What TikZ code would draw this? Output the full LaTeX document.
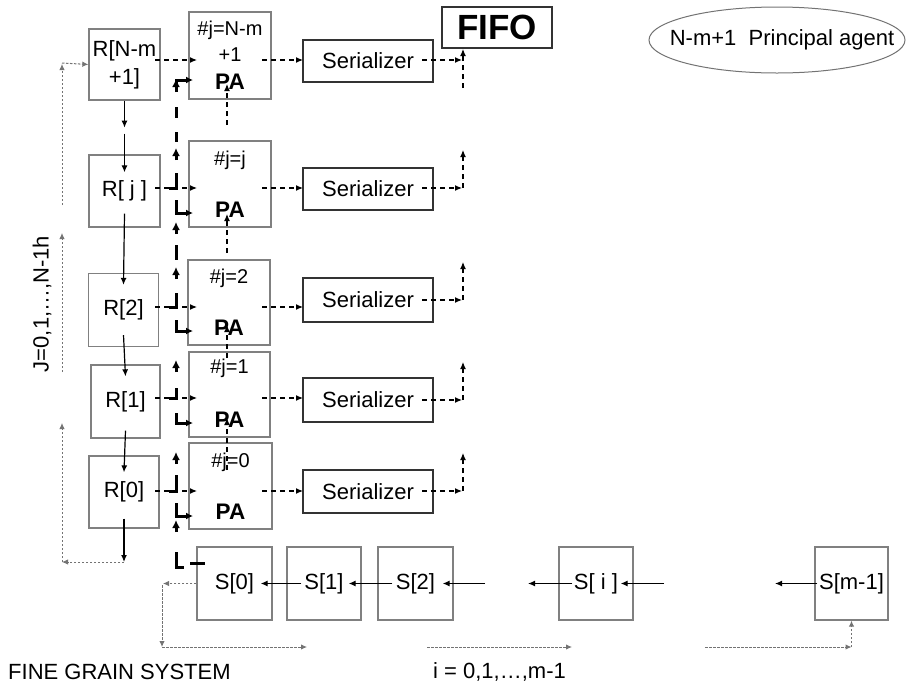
\documentclass[tikz,border=0pt]{standalone}
\usepackage{fontspec}
\setmainfont{Liberation Sans}
\usetikzlibrary{arrows.meta,shapes.geometric,calc}
\begin{document}
\begin{tikzpicture}[x=1pt,y=-1pt,
  gbox/.style={draw=black!50, line width=1.3pt, inner sep=0pt, font=\fontsize{22}{24}\selectfont},
  serbox/.style={draw=black!80, line width=1.8pt, inner sep=0pt, minimum width=130, font=\fontsize{22}{24}\selectfont},
  tx/.style={font=\fontsize{22}{24}\selectfont, inner sep=0pt},
  ptx/.style={font=\fontsize{20}{22}\selectfont, inner sep=0pt},
  pab/.style={font=\bfseries\fontsize{22.5}{24}\selectfont, inner sep=0pt},
  arr/.style={-{Latex[length=7pt,width=6pt]}, line width=1.2pt},
  darr/.style={arr, dash pattern=on 5pt off 4pt},
  garr/.style={-{Latex[length=6pt,width=5.5pt]}, line width=1pt, draw=black!55, dash pattern=on 2.5pt off 1.5pt},
  thk/.style={line width=3pt},
  tarr/.style={thk, -{Latex[length=8pt,width=8pt]}},
]
\useasboundingbox (0,0) rectangle (906,686);

% R column
\node[gbox, minimum width=71, minimum height=71] (r4) at (124.5,64.5) {};
\node[tx] (r4a) at (124.5,51) {R[N-m};
\node[tx] (r4b) at (124.5,79) {+1]};
\node[gbox, minimum width=71, minimum height=72] (rj) at (124.5,191) {R[ j ]};
\node[gbox, minimum width=70, minimum height=73] (r2) at (123.5,310) {R[2]};
\node[gbox, minimum width=69, minimum height=73] (r1) at (125.5,401.5) {R[1]};
\node[gbox, minimum width=70, minimum height=72] (r0) at (124,492) {R[0]};

% PA column
\node[gbox, minimum width=82, minimum height=87] (pa4) at (230,55.5) {};
\node[ptx] (pa4a) at (230,30) {\#j=N-m};
\node[ptx] (pa4b) at (230,55) {+1};
\node[pab] (pa4c) at (230,82) {PA};
\node[gbox, minimum width=82, minimum height=86] (paj) at (230,184) {};
\node[ptx] (paja) at (230,160) {\#j=j};
\node[pab] (pajc) at (230,210) {PA};
\node[gbox, minimum width=82, minimum height=85] (pa2) at (229,302.5) {};
\node[ptx] (pa2a) at (229,278) {\#j=2};
\node[pab] (pa2c) at (229,328) {PA};
\node[gbox, minimum width=81, minimum height=85] (pa1) at (229.5,394.5) {};
\node[ptx] (pa1a) at (229.5,368) {\#j=1};
\node[pab] (pa1c) at (229.5,420) {PA};
\node[gbox, minimum width=83, minimum height=86] (pa0) at (230.5,486) {};
\node[ptx] (pa0a) at (230.5,462) {\#j=0};
\node[pab] (pa0c) at (230.5,512) {PA};

% Serializers
\node[serbox, minimum height=42] (se4) at (368,61) {Serializer};
\node[serbox, minimum height=42] (sej) at (368,189) {Serializer};
\node[serbox, minimum height=44] (se2) at (368,300) {Serializer};
\node[serbox, minimum height=44] (se1) at (368,400) {Serializer};
\node[serbox, minimum height=43] (se0) at (368,491.5) {Serializer};

% FIFO and legend
\node[draw=black!80, line width=2pt, minimum width=110, minimum height=41, inner sep=0pt,
  font=\bfseries\fontsize{35}{37}\selectfont] (fifo) at (497,27.5) {FIFO};
\node[ellipse, draw=black!55, line width=1pt, minimum width=256, minimum height=66, inner sep=0pt] (leg) at (777,40) {};
\node[tx] (legt) at (782,40) {N-m+1\ \ Principal agent};

% S row
\node[gbox, minimum width=75, minimum height=73] (s0) at (234.5,583.5) {S[0]};
\node[gbox, minimum width=74, minimum height=73] (s1) at (324,583.5) {S[1]};
\node[gbox, minimum width=75, minimum height=73] (s2) at (415.5,583.5) {S[2]};
\node[gbox, minimum width=74, minimum height=73] (si) at (596,583.5) {S[ i ]};
\node[gbox, minimum width=73, minimum height=73] (sm) at (851.5,583.5) {S[m-1]};

% labels
\node[tx, anchor=west] (fgs) at (8,672) {FINE GRAIN SYSTEM};
\node[tx, anchor=west] (ilab) at (433,672) {i = 0,1,…,m-1};
\node[tx, rotate=90] (jlab) at (42,304) {J=0,1,…,N-1h};

% R chain arrows
\draw[arr] (r4.south) -- ++(0,27);
\draw[arr] ($(r4.south)+(0,33)$) -- ($(rj.north)+(0,18)$);
\draw[arr] ($(rj.south)+(0,-14)$) -- ($(r2.north)+(0,12)$);
\draw[arr] ($(r2.south)+(0,-12)$) -- ($(r1.north)+(0,12)$);
\draw[arr] ($(r1.south)+(0,-8)$) -- ($(r0.north)+(0,17)$);
\coordinate (c0) at (124,562);
\coordinate (c1) at (62,562);
\draw[arr] ($(r0.south)+(0,-10)$) -- (c0);
\draw[garr] (c0) -- (c1);
\draw[garr] (c1) -- (62,423);
\draw[garr] (62,372) -- (62,233);
\draw[garr] (62,205) -- (62,64);
\draw[garr] (62,63) -- (r4.west);

% R -> PA -> Serializer dashed arrows
\foreach \y in {60,188,307,398,491} {
  \draw[darr] (155,\y) -- (197,\y);
  \draw[darr] (262,\y) -- (303,\y);
}

% Serializer outputs
\draw[darr] (422,60) -- (462,60);
\draw[darr] (463,88) -- (463,49);
\foreach \c in {188,300,400,491} {
  \draw[darr] (422,\c) -- (462,\c);
  \draw[darr] (463,\c) -- (463,\c-38);
}

% PA upward thin dashed arrows
\draw[darr] (227,125) -- (227,84);
\draw[darr] (227,253) -- (227,214);
\draw[darr] (227,358) -- (227,325);
\draw[darr] (227,470) -- (227,418);

% thick chain
\draw[thk, -{Latex[length=7pt,width=7pt]}] (176,90) -- (176,80) -- (193,80);
\draw[tarr] (176,92) -- (176,79);
\foreach \a/\b in {107/118,132/142,245/260} { \draw[thk] (176,\a) -- (176,\b); }
\foreach \t in {148,222,267,360,452,520} { \draw[tarr] (176,\t+12) -- (176,\t); }
\foreach \a/\b in {173/188,293/307,388/398,475/491} { \draw[thk] (176,\a) -- (176,\b) -- (169,\b); }
\foreach \a/\b in {200/213,320/331,413/423,503/516} { \draw[thk, -{Latex[length=7pt,width=7pt]}] (176,\a) -- (176,\b) -- (193,\b); }
\draw[thk] (176,552) -- (176,567) -- (184,567);
\draw[thk] (190,563) -- (205,563);

% S row arrows
\draw[arr] ($(s1.west)+(15,0)$) -- ($(s0.east)+(-12,0)$);
\draw[arr] ($(s2.west)+(15,0)$) -- ($(s1.east)+(-13,0)$);
\draw[arr] (485,583.5) -- ($(s2.east)+(-11,0)$);
\draw[arr] ($(si.west)+(14,0)$) -- (528,583.5);
\draw[arr] (664,583.5) -- ($(si.east)+(-13,0)$);
\draw[arr] ($(sm.west)+(3,0)$) -- (775,583.5);

% bottom dotted arrows
\draw[garr] (s0.west) -- (163,583.5);
\draw[garr] (162,585) -- (162,647);
\draw[garr] (162,647) -- (307,647);
\draw[garr] (427,647) -- (572,647);
\draw[garr] (705,647) -- (851.5,647);
\draw[garr] (851.5,647) -- (sm.south);
\end{tikzpicture}
\end{document}
